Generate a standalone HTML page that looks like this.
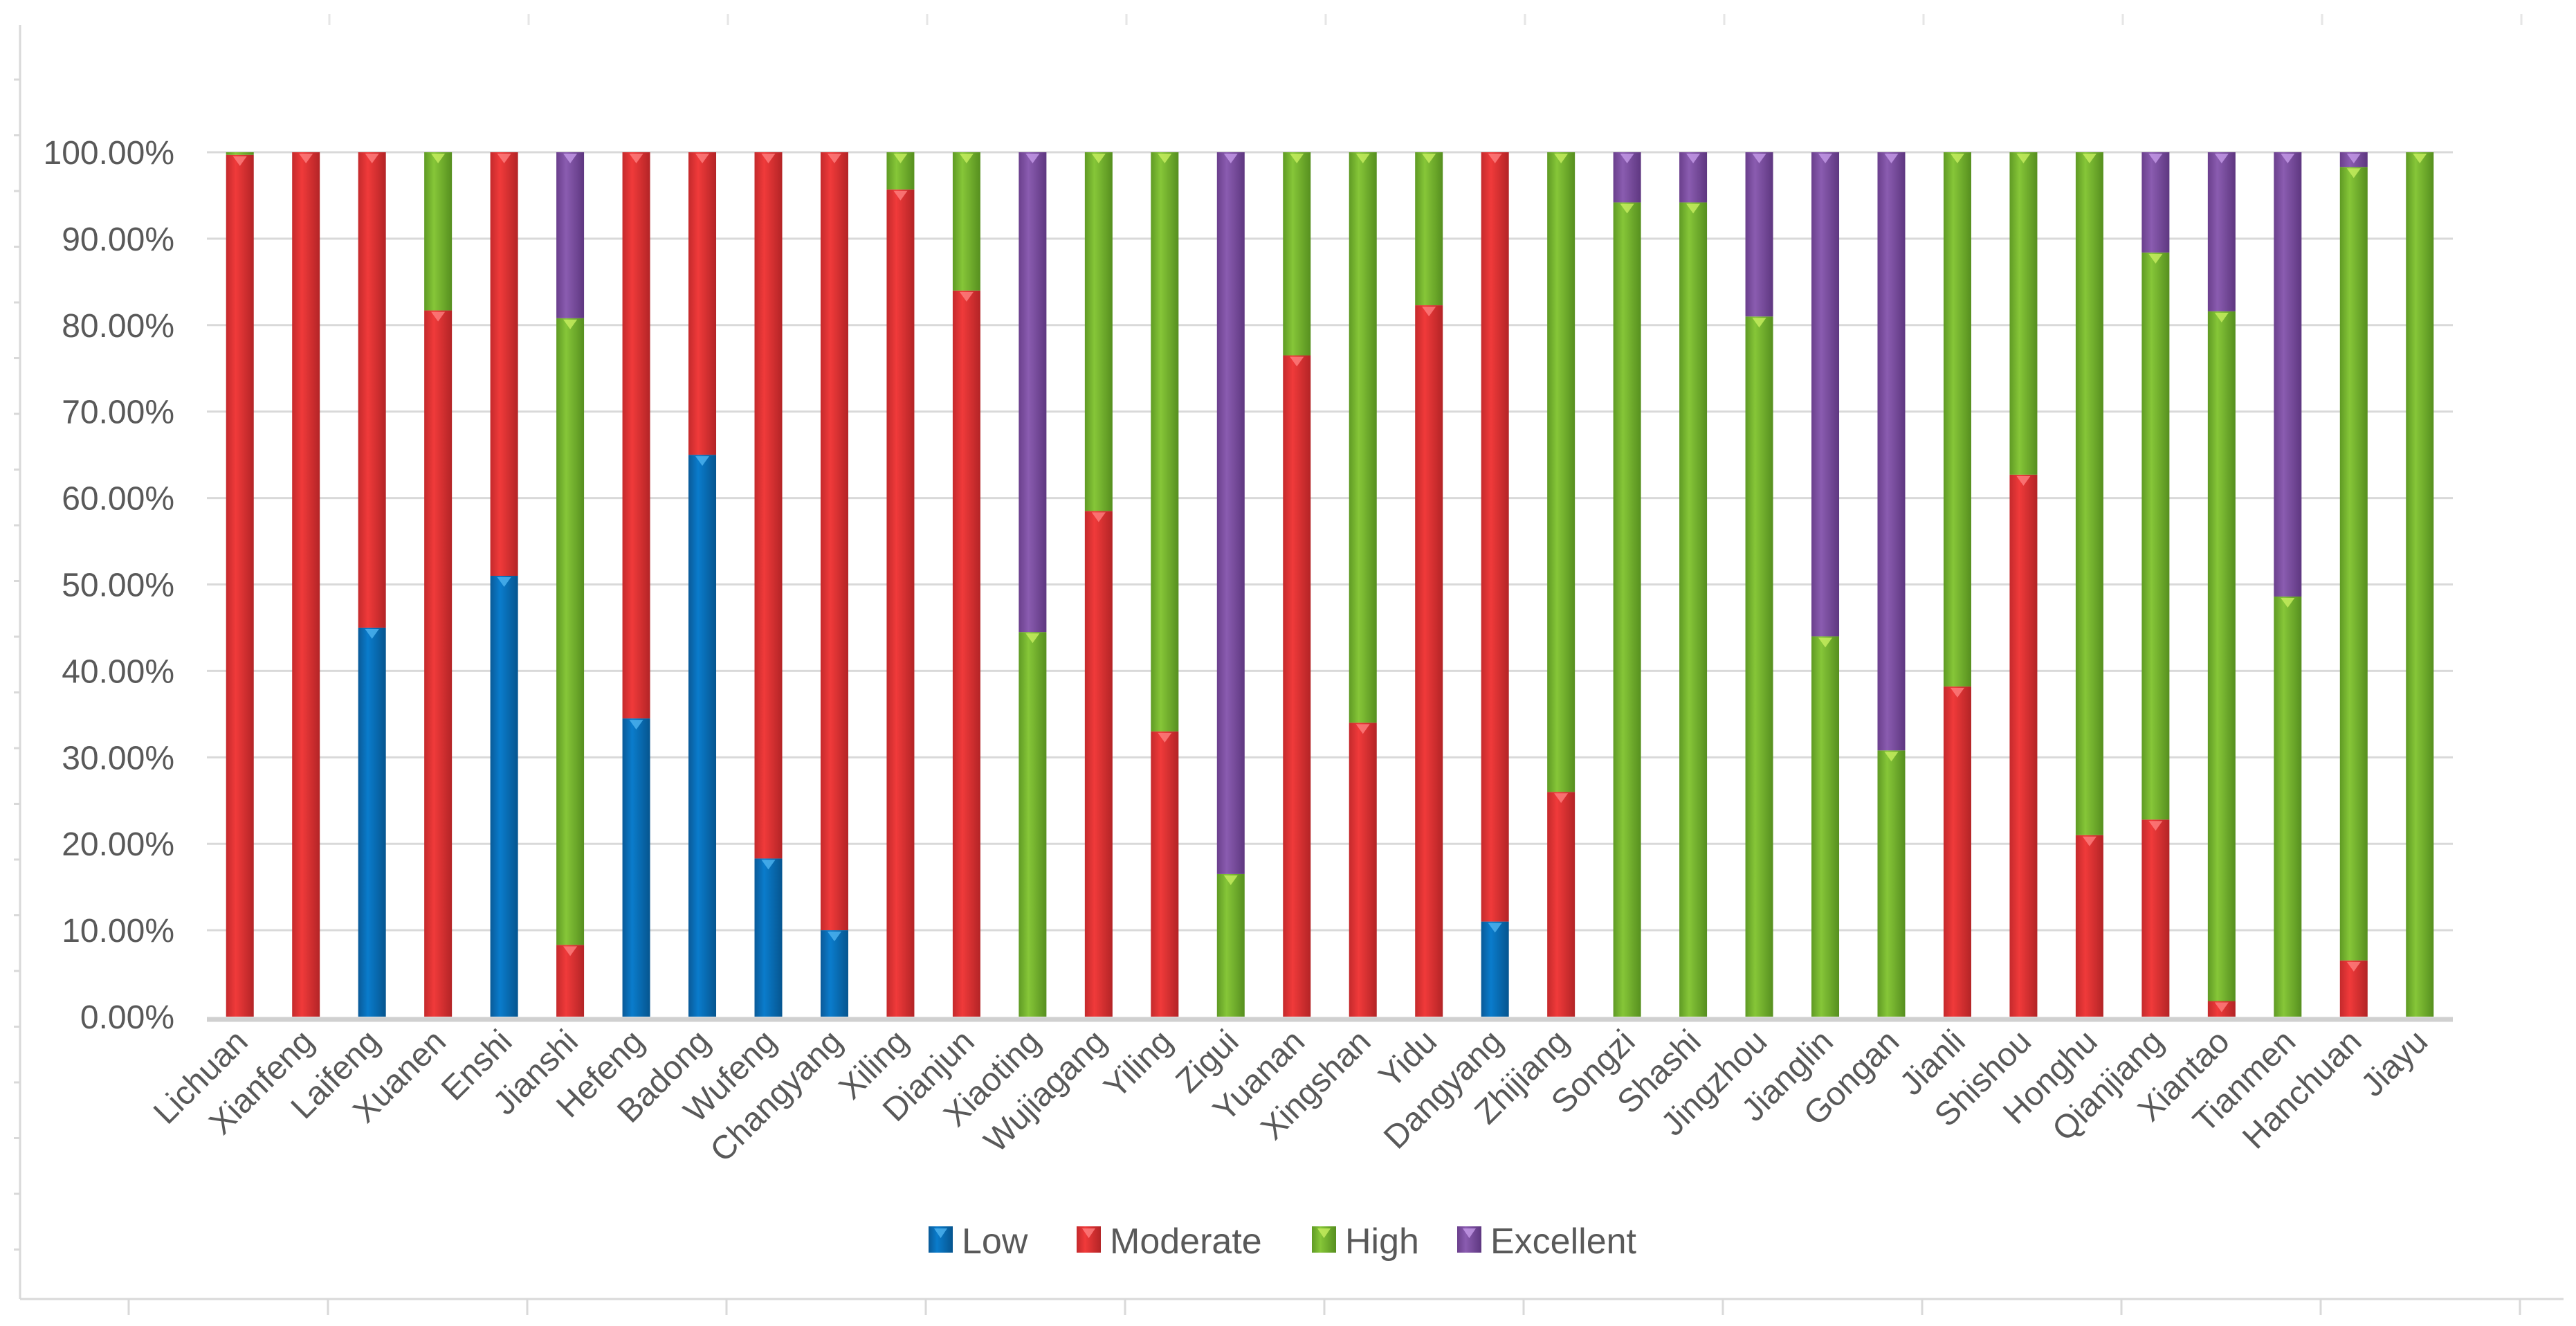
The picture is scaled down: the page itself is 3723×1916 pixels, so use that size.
<!DOCTYPE html>
<html><head><meta charset="utf-8">
<style>
html,body{margin:0;padding:0;background:#fff;}
svg{display:block;font-family:"Liberation Sans",sans-serif;}
</style></head>
<body>
<svg id="chart" width="3723" height="1916" viewBox="0 0 3723 1916" xmlns="http://www.w3.org/2000/svg">
<defs>
<linearGradient id="gLow" x1="0" x2="1" y1="0" y2="0"><stop offset="0" stop-color="#0a5a98"/><stop offset="0.35" stop-color="#0a7ccc"/><stop offset="1" stop-color="#06558f"/></linearGradient>
<linearGradient id="gMod" x1="0" x2="1" y1="0" y2="0"><stop offset="0" stop-color="#c42a2c"/><stop offset="0.35" stop-color="#f03a3a"/><stop offset="1" stop-color="#b32426"/></linearGradient>
<linearGradient id="gHigh" x1="0" x2="1" y1="0" y2="0"><stop offset="0" stop-color="#5f9a24"/><stop offset="0.35" stop-color="#86c638"/><stop offset="1" stop-color="#568f1f"/></linearGradient>
<linearGradient id="gExc" x1="0" x2="1" y1="0" y2="0"><stop offset="0" stop-color="#6a3f8c"/><stop offset="0.35" stop-color="#8a5cb0"/><stop offset="1" stop-color="#5e3780"/></linearGradient>
</defs>
<g id="frame"></g>
<g id="grid"></g>
<g id="yaxis"></g>
<g id="bars"></g>
<g id="xaxis"></g>
<g id="legend"></g>
</svg>
<script>
const categories = ["Lichuan","Xianfeng","Laifeng","Xuanen","Enshi","Jianshi","Hefeng","Badong","Wufeng","Changyang","Xiling","Dianjun","Xiaoting","Wujiagang","Yiling","Zigui","Yuanan","Xingshan","Yidu","Dangyang","Zhijiang","Songzi","Shashi","Jingzhou","Jianglin","Gongan","Jianli","Shishou","Honghu","Qianjiang","Xiantao","Tianmen","Hanchuan","Jiayu"];
const lowValues = [0,0,45,0,51,0,34.5,65,18.3,10,0,0,0,0,0,0,0,0,0,11,0,0,0,0,0,0,0,0,0,0,0,0,0,0];
const moderateValues = [99.7,100,55,81.7,49,8.3,65.5,35,81.7,90,95.7,84,0,58.5,33,0,76.5,34,82.3,89,26,0,0,0,0,0,38.2,62.7,21,22.8,1.8,0,6.5,0];
const highValues = [0.3,0,0,18.3,0,72.5,0,0,0,0,4.3,16,44.5,41.5,67,16.5,23.5,66,17.7,0,74,94.2,94.2,81,44,30.8,61.8,37.3,79,65.6,79.8,48.6,91.8,100];
const excellentValues = [0,0,0,0,0,19.2,0,0,0,0,0,0,55.5,0,0,83.5,0,0,0,0,0,5.8,5.8,19,56,69.2,0,0,0,11.6,18.4,51.4,1.7,0];
const yTicks = [0,10,20,30,40,50,60,70,80,90,100];
const yTickLabels = ["0.00%","10.00%","20.00%","30.00%","40.00%","50.00%","60.00%","70.00%","80.00%","90.00%","100.00%"];
const seriesNames = ["Low","Moderate","High","Excellent"];

const NS="http://www.w3.org/2000/svg";
const X0=299, X1=3545, Y0=1469, Y100=220;
const bandW=(X1-X0)/categories.length, barW=40;
function xc(i){return X0+bandW*(i+0.5);}
function y(v){return Y0-(v/100)*(Y0-Y100);}
function mk(tag,attrs,parent){const e=document.createElementNS(NS,tag);for(const k in attrs)e.setAttribute(k,attrs[k]);parent.appendChild(e);return e;}
const fills=["url(#gLow)","url(#gMod)","url(#gHigh)","url(#gExc)"];
const tri=["#4fb4f0","#ff8080","#c8ef60","#c69be8"];
const seriesArr=[lowValues,moderateValues,highValues,excellentValues];

// frame
const fr=document.getElementById('frame');
let l=mk('line',{x1:29,y1:36,x2:29,y2:1877,stroke:'#d9d9d9','stroke-width':3},fr);


l=mk('line',{x1:29,y1:1877,x2:3705,y2:1877,stroke:'#d9d9d9','stroke-width':3},fr);


for(let tx=186;tx<3705;tx+=288){
  l=mk('line',{x1:tx,y1:1877,x2:tx,y2:1900,stroke:'#d9d9d9','stroke-width':3},fr);
  
  
  l=mk('line',{x1:tx+290,y1:20,x2:tx+290,y2:36,stroke:'#e6e6e6','stroke-width':3},fr);
  
  
}
for(let ty=115;ty<1877;ty+=80.5){
  l=mk('line',{x1:20,y1:ty,x2:29,y2:ty,stroke:'#d9d9d9','stroke-width':3},fr);
  
  
}

// grid + y labels
const g=document.getElementById('grid'), ya=document.getElementById('yaxis');
yTicks.forEach((t,i)=>{
  if(t>0){const gl=mk('line',{x1:X0,y1:y(t),x2:X1,y2:y(t),stroke:'#d9d9d9','stroke-width':3},g);
  
  }
  const tx=mk('text',{x:252,y:y(t)+17,'text-anchor':'end','font-size':48,fill:'#595959'},ya);
  tx.textContent=yTickLabels[i];
  
  
});
const ax=mk('line',{x1:X0,y1:Y0+4,x2:X1,y2:Y0+4,stroke:'#d0d0d0','stroke-width':7},g);



// bars
const bg=document.getElementById('bars');
categories.forEach((c,i)=>{
  let cum=0;
  const grp=mk('g',{},bg);
  
  
  seriesArr.forEach((s,k)=>{
    const v=s[i]; if(v<=0) return;
    const yt=y(cum+v), yb=y(cum);
    const r=mk('rect',{x:xc(i)-barW/2,y:yt,width:barW,height:yb-yt,fill:fills[k]},grp);
    
    
    if(yb-yt>12){
      const x=xc(i);
      const p=mk('polygon',{points:`${x-10},${yt+2} ${x+10},${yt+2} ${x},${yt+16}`,fill:tri[k],opacity:0.8},grp);
      
      
    }
    cum+=v;
  });
});

// x labels
const xa=document.getElementById('xaxis');
categories.forEach((c,i)=>{
  const x=xc(i)+14, yy=1508;
  const t=mk('text',{x:x,y:yy,'text-anchor':'end','font-size':48,fill:'#595959',transform:`rotate(-45 ${x} ${yy})`},xa);
  t.textContent=c;
  
  
});

// legend
const lg=document.getElementById('legend');
const legX=[1342,1556,1896,2106];
seriesNames.forEach((n,k)=>{
  const it=mk('g',{},lg);
  
  
  const r=mk('rect',{x:legX[k],y:1772,width:35,height:38,fill:fills[k]},it);
  
  
  const p=mk('polygon',{points:`${legX[k]+8},1775 ${legX[k]+27},1775 ${legX[k]+17.5},1789`,fill:tri[k],opacity:0.8},it);
  
  
  const t=mk('text',{x:legX[k]+48,y:1811,'font-size':52,fill:'#595959'},it);
  t.textContent=n;
  
  
});
</script>
</body></html>
